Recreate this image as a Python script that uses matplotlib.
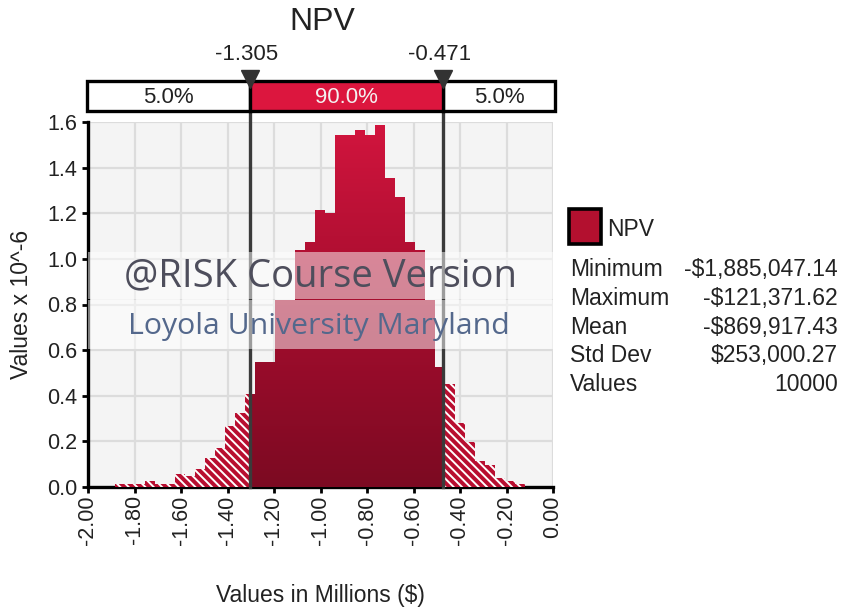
import matplotlib
matplotlib.use('Agg')
import matplotlib.pyplot as plt
import numpy as np
from matplotlib.patches import Rectangle
from matplotlib.path import Path
from matplotlib.colors import LinearSegmentedColormap

plt.rcParams['font.family'] = ['Liberation Sans', 'DejaVu Sans']
plt.rcParams['hatch.linewidth'] = 1.4

# simulated NPV distribution, values in millions
npv_min = -1.88504714
npv_max = -0.12137162
p5 = -1.305
p95 = -0.471
# density (x 10^-6) per bin, 41 equal bins from min to max
density = [0.012, 0.012, 0.015, 0.025, 0.012, 0.012, 0.056, 0.050, 0.081, 0.125,
           0.169, 0.267, 0.323,
           0.408, 0.549, 0.549, 0.820, 0.820, 1.040, 1.075, 1.216, 1.200, 1.542,
           1.542, 1.567, 1.542, 1.586, 1.355, 1.272, 1.075, 1.040, 0.820, 0.524,
           0.452, 0.279, 0.198, 0.114, 0.096, 0.041, 0.025, 0.011]

x_ticks = [-2.0, -1.8, -1.6, -1.4, -1.2, -1.0, -0.8, -0.6, -0.4, -0.2, 0.0]
x_ticklabels = ['-2.00', '-1.80', '-1.60', '-1.40', '-1.20', '-1.00',
                '-0.80', '-0.60', '-0.40', '-0.20', '0.00']
y_ticks = [0.0, 0.2, 0.4, 0.6, 0.8, 1.0, 1.2, 1.4, 1.6]
y_ticklabels = ['0.0', '0.2', '0.4', '0.6', '0.8', '1.0', '1.2', '1.4', '1.6']

stat_names = ['Minimum', 'Maximum', 'Mean', 'Std Dev', 'Values']
stat_values = ['-$1,885,047.14', '-$121,371.62', '-$869,917.43', '$253,000.27', '10000']
band_labels = ['5.0%', '90.0%', '5.0%']

RED = '#c4103a'
W, H = 851, 607

fig = plt.figure(figsize=(W / 100, H / 100), dpi=100)
ax = fig.add_axes([88 / W, 1 - 487 / H, 465 / W, 365 / H])
ax.set_facecolor('#f4f4f4')

edges = np.linspace(npv_min, npv_max, len(density) + 1)

# split every bin at the 5% / 95% marks
solid_l, solid_w, solid_h = [], [], []
tail_l, tail_w, tail_h = [], [], []
for lo, hi, d in zip(edges[:-1], edges[1:], density):
    for a, b, inside in [(lo, min(hi, p5), False), (max(lo, p5), min(hi, p95), True),
                         (max(lo, p95), hi, False)]:
        if b <= a:
            continue
        if inside:
            solid_l.append(a); solid_w.append(b - a); solid_h.append(d)
        else:
            tail_l.append(a); tail_w.append(b - a); tail_h.append(d)

ax.bar(tail_l, tail_h, tail_w, align='edge', color='#b80e30', edgecolor='white',
       linewidth=0, hatch='\\\\\\\\', zorder=3)
solid = ax.bar(solid_l, solid_h, solid_w, align='edge', color=RED, linewidth=0, zorder=3)

# vertical gradient on the 90% bars
paths = [p.get_path().transformed(p.get_patch_transform()) for p in solid]
clip = Path.make_compound_path(*paths)
grad = np.linspace(0, 1, 256).reshape(-1, 1)
cmap = LinearSegmentedColormap.from_list('npv', ['#7c0a22', '#a50d2e', '#d2153e'])
im = ax.imshow(grad, cmap=cmap, extent=[-2, 0, 0, 1.6], origin='lower',
               aspect='auto', zorder=3.5)
im.set_clip_path(clip, ax.transData)

ax.set_xlim(-2.0, 0.0)
ax.set_ylim(0, 1.6)
ax.set_xticks(x_ticks)
ax.set_xticklabels(x_ticklabels, rotation=90, va='top')
ax.set_yticks(y_ticks)
ax.set_yticklabels(y_ticklabels)
ax.tick_params(axis='both', length=4, width=2, color='black', labelsize=15.5,
               labelcolor='#222222')
ax.tick_params(axis='x', pad=2)
ax.tick_params(axis='y', pad=4)
ax.grid(True, color='#dcdcdc', linewidth=1.6)
ax.set_axisbelow(True)
for side in ['top', 'right']:
    ax.spines[side].set_visible(False)
for side in ['left', 'bottom']:
    ax.spines[side].set_linewidth(2.4)
    ax.spines[side].set_color('black')

ax.set_xlabel('Values in Millions ($)', fontsize=16.5, color='#222222', labelpad=28)
ax.set_ylabel('Values x 10^-6', fontsize=16.5, color='#222222', labelpad=10)

# percentile delimiters
for x in [p5, p95]:
    ax.axvline(x, ymin=0, ymax=(487 - 88) / 365, color='#3a3a3a', lw=2.4,
               clip_on=False, zorder=4)

# watermark
ax.axhspan(0.822, 1.031, color='white', alpha=0.5, lw=0, zorder=5)
ax.axhspan(0.607, 0.818, color='white', alpha=0.5, lw=0, zorder=5)
ax.text(0.5, 0.578, '@RISK Course Version', transform=ax.transAxes, ha='center',
        va='center', fontsize=27.5, color='#4e4e5c', family='Open Sans', zorder=6)
ax.text(0.497, 0.44, 'Loyola University Maryland', transform=ax.transAxes,
        ha='center', va='center', fontsize=21.8, color='#54688c', family='Open Sans',
        zorder=6)

# percentile band on top
pax = fig.add_axes([88 / W, 1 - 111 / H, 465 / W, 30 / H])
pax.set_xlim(-2.0, 0.0)
pax.set_ylim(0, 1)
pax.axis('off')
x0, x1 = -2.006, 0.009
pax.add_patch(Rectangle((x0, 0), p5 - x0, 1, facecolor='white', edgecolor='black',
                        lw=2.4, clip_on=False))
pax.add_patch(Rectangle((p95, 0), x1 - p95, 1, facecolor='white', edgecolor='black',
                        lw=2.4, clip_on=False))
pax.add_patch(Rectangle((p5, 0), p95 - p5, 1, facecolor='#dc163e', edgecolor='black',
                        lw=2.4, clip_on=False))
pax.text((x0 + p5) / 2, 0.45, band_labels[0], ha='center', va='center', fontsize=16,
         color='#222222')
pax.text((p5 + p95) / 2, 0.45, band_labels[1], ha='center', va='center', fontsize=16,
         color='#f4f0f0')
pax.text((p95 + x1) / 2, 0.45, band_labels[2], ha='center', va='center', fontsize=16,
         color='#222222')
pax.plot([p5, p95], [1.08, 1.08], linestyle='none', marker='v', markersize=12.5,
         color='#333333', clip_on=False, zorder=5)
for x, lab in [(p5, '-1.305'), (p95, '-0.471')]:
    pax.text(x - 0.015, (111 - 55) / 30, lab, ha='center', va='center', fontsize=16,
             color='#222222')

fig.text(322 / W, 1 - 22 / H, 'NPV', ha='center', va='center', fontsize=23,
         color='#222222')

# legend + statistics
fig.add_artist(Rectangle((569 / W, 1 - 244 / H), 32 / W, 35 / H, facecolor='#b3102f',
                         edgecolor='black', lw=2.6, transform=fig.transFigure))
fig.text(607 / W, 1 - 229 / H, 'NPV', ha='left', va='center', fontsize=16.5,
         color='#222222')
for i, (name, val) in enumerate(zip(stat_names, stat_values)):
    y = 1 - (270 + i * 28.6) / H
    fig.text(570 / W, y, name, ha='left', va='center', fontsize=16.5, color='#222222')
    fig.text(838 / W, y, val, ha='right', va='center', fontsize=16.5, color='#222222')

fig.savefig('out.png', dpi=100)
plt.close(fig)
